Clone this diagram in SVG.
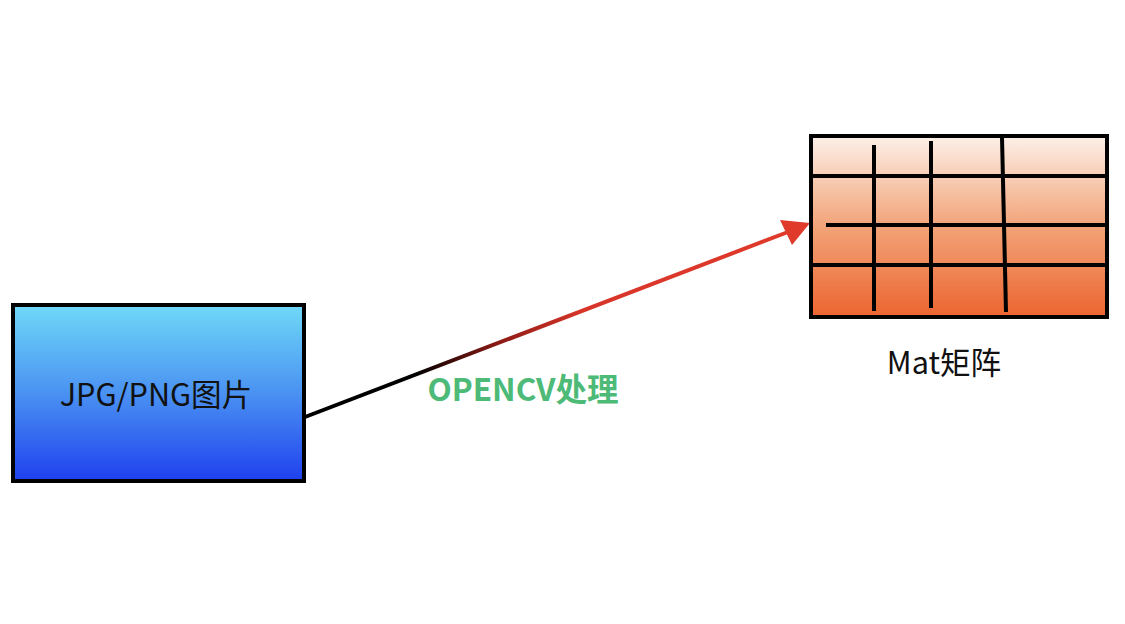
<svg xmlns="http://www.w3.org/2000/svg" width="1125" height="624" viewBox="0 0 1125 624">
<defs>
<linearGradient id="blue" x1="0" y1="0" x2="0" y2="1">
<stop offset="0" stop-color="#6fd9f7"/>
<stop offset="0.5" stop-color="#4a92f2"/>
<stop offset="1" stop-color="#1f40ee"/>
</linearGradient>
<linearGradient id="orange" x1="0" y1="0" x2="0" y2="1">
<stop offset="0" stop-color="#fcf0e8"/>
<stop offset="0.5" stop-color="#f2a378"/>
<stop offset="1" stop-color="#ec6530"/>
</linearGradient>
<linearGradient id="arrowgrad" gradientUnits="userSpaceOnUse" x1="305" y1="417" x2="810" y2="223">
<stop offset="0.22" stop-color="#000000"/>
<stop offset="0.38" stop-color="#8a1a14"/>
<stop offset="0.55" stop-color="#d8352a"/>
<stop offset="1" stop-color="#e03a2a"/>
</linearGradient>
<style>
.frame{stroke:#000;stroke-width:4}
.grid{stroke:#000;stroke-width:4;fill:none;stroke-linecap:butt}
.lbl{font-family:"Noto Sans CJK SC","Noto Sans",sans-serif;font-size:30.6px;fill:#111;text-anchor:middle}
.edge{font-family:"Noto Sans CJK SC","Noto Sans",sans-serif;font-size:31.5px;font-weight:bold;fill:#4dba77;text-anchor:middle}
</style>
</defs>
<rect width="1125" height="624" fill="#ffffff"/>
<g id="connectors">
<line x1="305" y1="417" x2="788" y2="232" stroke="url(#arrowgrad)" stroke-width="4"/>
<polygon points="810,223 780,220 792,245" fill="#e03a2a"/>
<text class="edge" x="523" y="401">OPENCV处理</text>
</g>
<g id="node-image">
<rect class="frame" x="13" y="305" width="291" height="176" fill="url(#blue)"/>
<text class="lbl" x="156" y="406">JPG/PNG图片</text>
</g>
<g id="node-mat">
<rect class="frame" x="811" y="136" width="296" height="181" fill="url(#orange)"/>
<line class="grid" x1="811" y1="176" x2="1107" y2="176"/>
<line class="grid" x1="826" y1="225" x2="1107" y2="225"/>
<line class="grid" x1="811" y1="265" x2="1107" y2="265"/>
<line class="grid" x1="874" y1="145" x2="874" y2="311"/>
<line class="grid" x1="931" y1="141" x2="931" y2="308"/>
<line class="grid" x1="1002" y1="137" x2="1006" y2="312"/>
<text class="lbl" x="944" y="374">Mat矩阵</text>
</g>
</svg>
